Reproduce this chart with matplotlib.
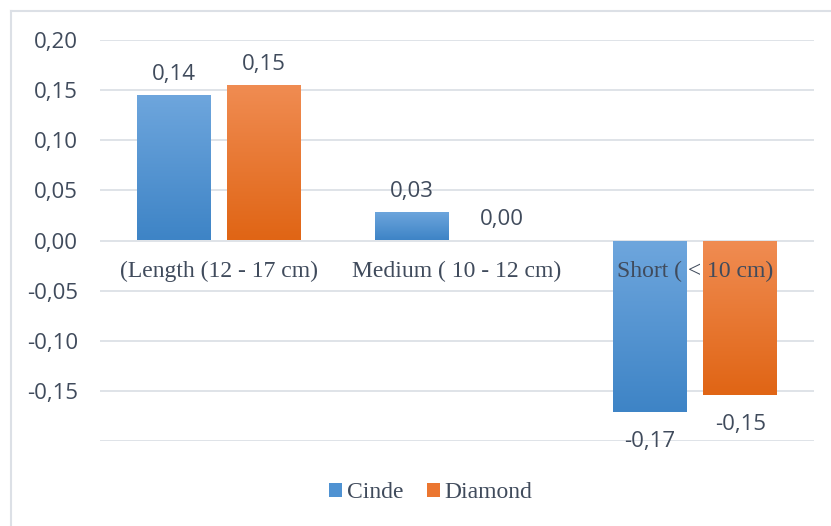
import numpy as np
import matplotlib.pyplot as plt
from matplotlib.patches import Rectangle
from matplotlib.lines import Line2D
from matplotlib.colors import LinearSegmentedColormap

# datos
categorias = ["(Length (12 - 17 cm)", "Medium ( 10 - 12 cm)", "Short ( < 10 cm)"]
cinde = [0.145, 0.028, -0.171]
diamond = [0.155, 0.0, -0.154]
etiq_cinde = ["0,14", "0,03", "-0,17"]
etiq_diamond = ["0,15", "0,00", "-0,15"]
yticks = [0.20, 0.15, 0.10, 0.05, 0.00, -0.05, -0.10, -0.15]
ytick_labels = ["0,20", "0,15", "0,10", "0,05", "0,00", "-0,05", "-0,10", "-0,15"]

txt = "#404B5C"
grid_c = "#DCE0E6"

fig = plt.figure(figsize=(8.31, 5.26), dpi=100)
ax = fig.add_axes([100/831, 85/526, 714/831, 401/526])
ax.set_xlim(0, 3)
ax.set_ylim(-0.20, 0.20)

# lineas de la grilla
for v in [0.20, 0.15, 0.10, 0.05, 0.0, -0.05, -0.10, -0.15, -0.20]:
    ax.axhline(v, color=grid_c, lw=1.3, zorder=0)

def barra_gradiente(x0, w, h, c_top, c_bot):
    y0, y1 = min(0, h), max(0, h)
    grad = np.linspace(0, 1, 100).reshape(-1, 1)
    cmap = LinearSegmentedColormap.from_list("g", [c_bot, c_top])
    im = ax.imshow(grad, cmap=cmap, origin="lower", aspect="auto",
                   extent=[x0, x0 + w, y0, y1], zorder=2)
    r = Rectangle((x0, y0), w, y1 - y0, transform=ax.transData,
                  facecolor="none", edgecolor="none")
    ax.add_patch(r)
    im.set_clip_path(r)

w = 74 / 238
off = 0.19
x = np.arange(3) + 0.5
for i in range(3):
    barra_gradiente(x[i] - off - w/2, w, cinde[i], "#6EA6DD", "#3E84C6")
    barra_gradiente(x[i] + off - w/2, w, diamond[i], "#F08C52", "#E06515")

# etiquetas de valores
for i in range(3):
    for xv, v, lab in [(x[i] - off, cinde[i], etiq_cinde[i]), (x[i] + off, diamond[i], etiq_diamond[i])]:
        dy = 15 if v >= 0 else -21
        ax.annotate(lab, (xv, v), xytext=(0, dy), textcoords="offset points",
                    ha="center", va="center", fontsize=16, color=txt, family="Open Sans")

# etiquetas de categorias junto al eje cero
for i in range(3):
    ax.text(x[i], -0.0305, categorias[i], ha="center", va="center", fontsize=17,
            color=txt, family="Liberation Serif", zorder=3)

ax.set_yticks(yticks)
ax.set_yticklabels(ytick_labels, family="Open Sans", fontsize=16, color=txt)
ax.tick_params(axis="y", length=0, pad=16)
ax.set_xticks([])
for s in ax.spines.values():
    s.set_visible(False)

# borde del grafico
fig.add_artist(Line2D([11/831, 11/831], [0, 1 - 11/526], color=grid_c, lw=1.5))
fig.add_artist(Line2D([11/831, 1], [1 - 11/526, 1 - 11/526], color=grid_c, lw=1.5))

# leyenda
h1 = Rectangle((0, 0), 1, 1, facecolor="#4F92D2")
h2 = Rectangle((0, 0), 1, 1, facecolor="#EB7630")
fig.legend([h1, h2], ["Cinde", "Diamond"], loc="center", bbox_to_anchor=(431/831, 1 - 493/526),
           ncol=2, frameon=False, prop={"family": "Liberation Serif", "size": 17},
           labelcolor=txt, handlelength=0.55, handleheight=0.55, handletextpad=0.2,
           columnspacing=1.0)

fig.savefig("out.png", dpi=100)
